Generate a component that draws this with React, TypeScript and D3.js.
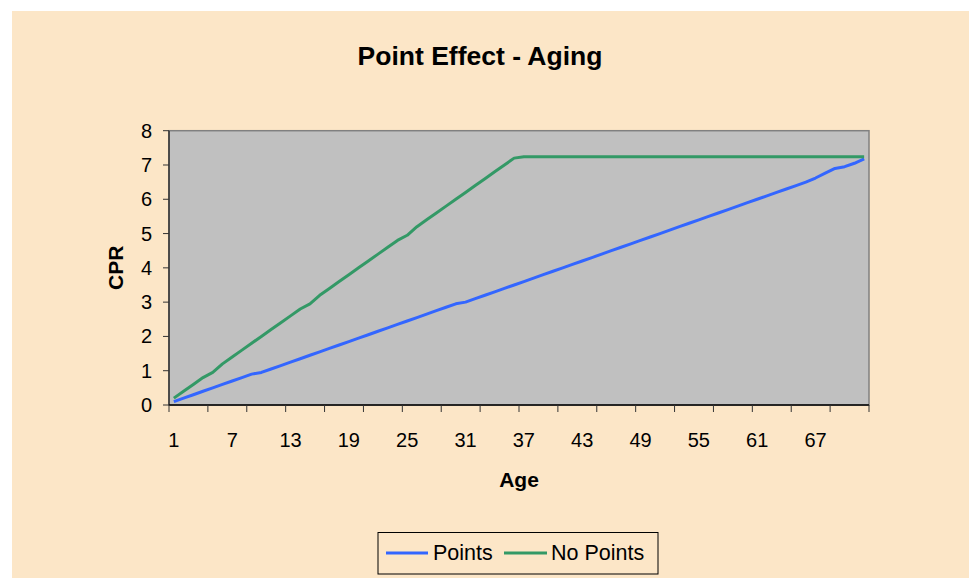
import React from "react";
import * as d3 from "d3";

const ages: number[] = [
  1, 2, 3, 4, 5, 6, 7, 8, 9, 10, 11, 12, 13, 14, 15, 16, 17, 18, 19, 20, 21, 22, 23, 24,
  25, 26, 27, 28, 29, 30, 31, 32, 33, 34, 35, 36, 37, 38, 39, 40, 41, 42, 43, 44, 45, 46, 47, 48,
  49, 50, 51, 52, 53, 54, 55, 56, 57, 58, 59, 60, 61, 62, 63, 64, 65, 66, 67, 68, 69, 70, 71, 72,
];

const points: number[] = [
  0.1, 0.2, 0.3, 0.4, 0.5, 0.6, 0.7, 0.8, 0.9, 0.95, 1.05, 1.15, 1.25, 1.35, 1.45, 1.55, 1.65, 1.75,
  1.85, 1.95, 2.05, 2.15, 2.25, 2.35, 2.45, 2.55, 2.65, 2.75, 2.85, 2.95, 3.0, 3.1, 3.2, 3.3, 3.4, 3.5,
  3.6, 3.7, 3.8, 3.9, 4.0, 4.1, 4.2, 4.3, 4.4, 4.5, 4.6, 4.7, 4.8, 4.9, 5.0, 5.1, 5.2, 5.3,
  5.4, 5.5, 5.6, 5.7, 5.8, 5.9, 6.0, 6.1, 6.2, 6.3, 6.4, 6.5, 6.62, 6.76, 6.9, 6.95, 7.05, 7.18,
];

const noPoints: number[] = [
  0.2, 0.4, 0.6, 0.8, 0.95, 1.2, 1.4, 1.6, 1.8, 2.0, 2.2, 2.4, 2.6, 2.8, 2.95, 3.2, 3.4, 3.6,
  3.8, 4.0, 4.2, 4.4, 4.6, 4.8, 4.95, 5.2, 5.4, 5.6, 5.8, 6.0, 6.2, 6.4, 6.6, 6.8, 7.0, 7.2,
  7.24, 7.24, 7.24, 7.24, 7.24, 7.24, 7.24, 7.24, 7.24, 7.24, 7.24, 7.24, 7.24, 7.24, 7.24, 7.24, 7.24, 7.24,
  7.24, 7.24, 7.24, 7.24, 7.24, 7.24, 7.24, 7.24, 7.24, 7.24, 7.24, 7.24, 7.24, 7.24, 7.24, 7.24, 7.24, 7.24,
];

const yTicks: number[] = [0, 1, 2, 3, 4, 5, 6, 7, 8];
const xLabelAges: number[] = [1, 7, 13, 19, 25, 31, 37, 43, 49, 55, 61, 67];
const seriesNames: string[] = ["Points", "No Points"];
const seriesColors: string[] = ["#3366FF", "#339966"];

const W = 969;
const H = 579;
const plot = { left: 169, right: 869, top: 130.7, bottom: 405 };
const FONT = "'Liberation Sans', Arial, sans-serif";

export default function App() {
  const x = d3
    .scaleBand<number>()
    .domain(ages)
    .range([plot.left, plot.right])
    .paddingInner(0)
    .paddingOuter(0);
  const y = d3.scaleLinear().domain([0, 8]).range([plot.bottom, plot.top]);
  const cx = (a: number) => (x(a) as number) + x.bandwidth() / 2;

  const line = d3
    .line<number>()
    .x((_, i) => cx(ages[i]))
    .y((v) => y(v));

  const tickBoundaries: number[] = [];
  for (let i = 0; i <= ages.length; i += 4) {
    tickBoundaries.push(plot.left + i * x.bandwidth());
  }

  const series = [points, noPoints];

  return (
    <svg
      width={W}
      height={H}
      style={{ position: "absolute", left: 0, top: 0, background: "#ffffff" }}
      fontFamily={FONT}
    >
      <rect x={12} y={11} width={W - 12} height={567} fill="#FCE6C7" />
      <text x={480} y={65} textAnchor="middle" fontSize={26.5} fontWeight="bold" fill="#000">
        Point Effect - Aging
      </text>

      <rect
        x={plot.left}
        y={plot.top}
        width={plot.right - plot.left}
        height={plot.bottom - plot.top}
        fill="#C0C0C0"
        stroke="#808080"
        strokeWidth={1.5}
      />

      {/* y axis */}
      <line x1={plot.left} x2={plot.left} y1={plot.top} y2={plot.bottom} stroke="#333" strokeWidth={1.5} />
      {yTicks.map((t) => (
        <g key={"y" + t}>
          <line x1={plot.left - 6} x2={plot.left} y1={y(t)} y2={y(t)} stroke="#333" strokeWidth={1} />
          <text x={152} y={y(t)} dy="0.35em" textAnchor="end" fontSize={20} fill="#000">
            {t}
          </text>
        </g>
      ))}

      {/* x axis */}
      <line x1={plot.left} x2={plot.right} y1={plot.bottom} y2={plot.bottom} stroke="#000" strokeWidth={1.5} />
      {tickBoundaries.map((bx, i) => (
        <line key={"xt" + i} x1={bx} x2={bx} y1={plot.bottom} y2={plot.bottom + 7} stroke="#333" strokeWidth={1} />
      ))}
      {xLabelAges.map((a) => (
        <text key={"xl" + a} x={cx(a)} y={447} textAnchor="middle" fontSize={20} fill="#000">
          {a}
        </text>
      ))}

      {/* series */}
      {series.map((s, i) => (
        <path
          key={seriesNames[i]}
          d={line(s) || ""}
          fill="none"
          stroke={seriesColors[i]}
          strokeWidth={3}
          strokeLinejoin="round"
        />
      ))}

      {/* axis titles */}
      <text
        transform={`translate(123, ${(plot.top + plot.bottom) / 2}) rotate(-90)`}
        textAnchor="middle"
        fontSize={21}
        fontWeight="bold"
        fill="#000"
      >
        CPR
      </text>
      <text x={(plot.left + plot.right) / 2} y={487} textAnchor="middle" fontSize={21} fontWeight="bold" fill="#000">
        Age
      </text>

      {/* legend */}
      <rect x={378} y={532.5} width={280} height={41.5} fill="none" stroke="#000" strokeWidth={1} />
      <line x1={386} x2={428} y1={553} y2={553} stroke={seriesColors[0]} strokeWidth={3} />
      <text x={433} y={560} fontSize={21.5} fill="#000">
        {seriesNames[0]}
      </text>
      <line x1={504} x2={547} y1={553} y2={553} stroke={seriesColors[1]} strokeWidth={3} />
      <text x={551} y={560} fontSize={21.5} fill="#000">
        {seriesNames[1]}
      </text>
    </svg>
  );
}
